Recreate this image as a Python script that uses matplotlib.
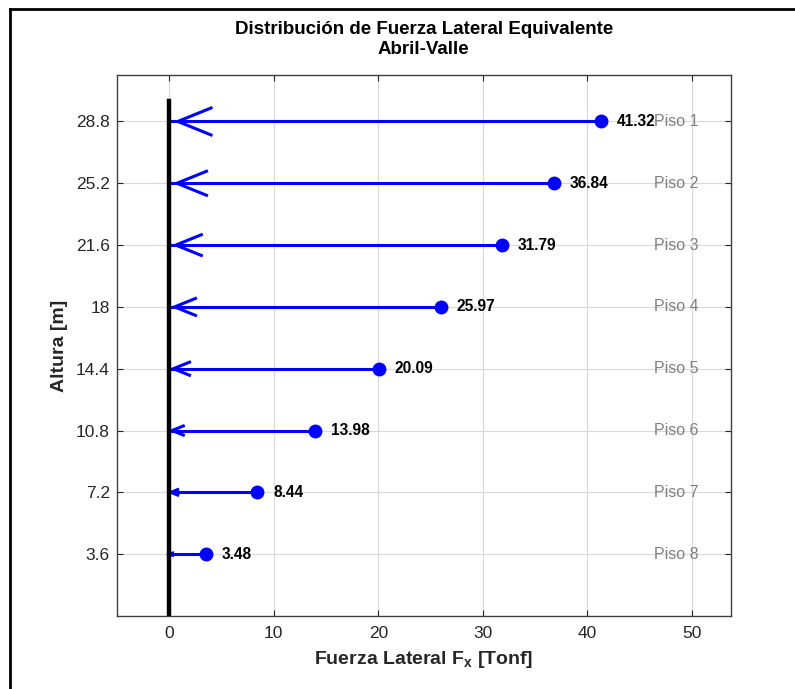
import matplotlib
matplotlib.use("Agg")
import matplotlib.pyplot as plt
from matplotlib.lines import Line2D

plt.rcParams['font.family'] = ['Liberation Sans', 'DejaVu Sans']
plt.rcParams['mathtext.fontset'] = 'custom'
plt.rcParams['mathtext.rm'] = 'Liberation Sans'
plt.rcParams['mathtext.bf'] = 'Liberation Sans:bold'

# datos
alturas = [28.8, 25.2, 21.6, 18.0, 14.4, 10.8, 7.2, 3.6]
fuerzas = [41.32, 36.84, 31.79, 25.97, 20.09, 13.98, 8.44, 3.48]
pisos = ['Piso 1', 'Piso 2', 'Piso 3', 'Piso 4', 'Piso 5', 'Piso 6', 'Piso 7', 'Piso 8']
ytick_labels = ['3.6', '7.2', '10.8', '14.4', '18', '21.6', '25.2', '28.8']

azul = '#0000ff'

fig = plt.figure(figsize=(7.95, 6.89), dpi=100)
ax = fig.add_axes([0.147, 0.106, 0.772, 0.785])

# eje del edificio
ax.plot([0, 0], [0, 30], color='black', lw=3.2, zorder=4)

for h, f, p in zip(alturas, fuerzas, pisos):
    tip = 0.02 * f
    hl = 0.077 * f
    hw = 0.019 * f
    ax.plot([f, 0], [h, h], color=azul, lw=2.2, zorder=3)
    ax.plot([tip + hl, tip, tip + hl], [h + hw, h, h - hw], color=azul, lw=2.2,
            solid_joinstyle='miter', zorder=3)
    ax.plot(f, h, 'o', color=azul, ms=9, zorder=5)
    ax.text(f + 1.5, h, f'{f:.2f}', fontsize=11.2, fontweight='bold', va='center', ha='left')
    ax.text(46.35, h, p, fontsize=11.5, color='#808080', va='center', ha='left')

ax.set_xlim(-5, 53.7)
ax.set_ylim(0, 31.5)
ax.set_xticks([0, 10, 20, 30, 40, 50])
ax.set_yticks(sorted(alturas))
ax.set_yticklabels(ytick_labels)
ax.grid(True, color='#d9d9d9', lw=0.8)
ax.set_axisbelow(True)
ax.tick_params(direction='in', top=True, right=True, labelsize=12.5, colors='#262626',
               length=4)
ax.tick_params(axis='y', pad=5)
ax.tick_params(axis='x', pad=7)
for s in ax.spines.values():
    s.set_color('#404040')
    s.set_linewidth(1.0)

ax.set_xlabel(r'Fuerza Lateral $\mathbf{F_x}$ [Tonf]', fontsize=14, fontweight='bold',
              color='#262626', labelpad=6)
ax.set_ylabel('Altura [m]', fontsize=14, fontweight='bold', color='#262626', labelpad=6)
ax.set_title('Distribución de Fuerza Lateral Equivalente\nAbril-Valle', fontsize=13.5,
             fontweight='bold', pad=15, linespacing=1.25)

# marco de la ventana
fig.add_artist(Line2D([10 / 795, 10 / 795], [0, 1 - 9 / 689], color='black', lw=2,
                      transform=fig.transFigure))
fig.add_artist(Line2D([10 / 795, 1], [1 - 9 / 689, 1 - 9 / 689], color='black', lw=2,
                      transform=fig.transFigure))

fig.savefig('out.png', dpi=100)
